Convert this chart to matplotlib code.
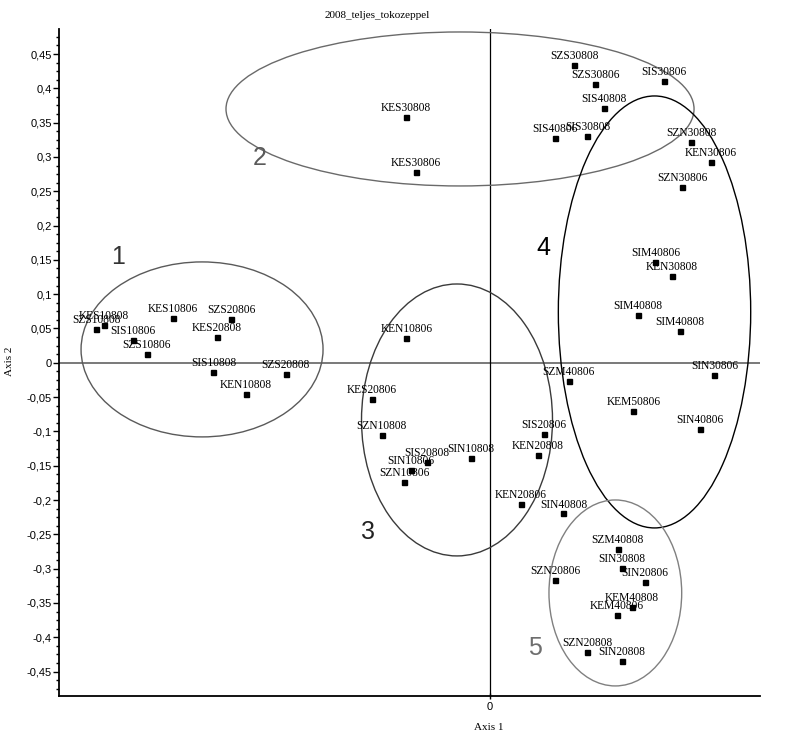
import matplotlib
matplotlib.use("Agg")
import matplotlib.pyplot as plt
from matplotlib.patches import Ellipse
from matplotlib.ticker import FixedLocator, MultipleLocator, FuncFormatter
import numpy as np

# ---- data ----
labels = [
    "KES10808", "SZS10808", "SIS10806", "SZS10806", "KES10806", "SZS20806",
    "KES20808", "SIS10808", "SZS20808", "KEN10808",
    "KES30808", "KES30806", "SZS30808", "SZS30806", "SIS30806", "SIS40808",
    "SIS40806", "SIS30808",
    "SZN30808", "KEN30806", "SZN30806", "SIM40806", "KEN30808", "SIM40808",
    "SIM40808", "SIN30806", "SZM40806", "KEM50806", "SIN40806",
    "KEN10806", "KES20806", "SZN10808", "SIS20808", "SIN10806", "SZN10806",
    "SIN10808", "SIS20806", "KEN20808", "KEN20806", "SIN40808",
    "SZM40808", "SIN30808", "SIN20806", "SZN20806", "KEM40808", "KEM40806",
    "SZN20808", "SIN20808",
]
axis1 = [
    -0.562, -0.574, -0.520, -0.500, -0.462, -0.377, -0.398, -0.403, -0.298, -0.356,
    -0.122, -0.108, 0.123, 0.153, 0.253, 0.166, 0.095, 0.142,
    0.293, 0.322, 0.280, 0.241, 0.265, 0.215, 0.277, 0.327, 0.115, 0.209, 0.306,
    -0.122, -0.172, -0.158, -0.092, -0.115, -0.125, -0.028, 0.078, 0.070, 0.045, 0.107,
    0.186, 0.192, 0.226, 0.095, 0.207, 0.185, 0.142, 0.192,
]
axis2 = [
    0.0547, 0.0489, 0.0333, 0.0125, 0.0658, 0.0639, 0.0377, -0.0138, -0.0167, -0.0450,
    0.3587, 0.2781, 0.4336, 0.4059, 0.4107, 0.3713, 0.3281, 0.3310,
    0.3214, 0.2931, 0.2558, 0.1474, 0.1261, 0.0702, 0.0468, -0.0173, -0.0260, -0.0697, -0.0964,
    0.0358, -0.0527, -0.1056, -0.1449, -0.1557, -0.1740, -0.1386, -0.1041, -0.1338, -0.2057, -0.2195,
    -0.2712, -0.2994, -0.3198, -0.3164, -0.3553, -0.3678, -0.4209, -0.4349,
]
yticks = [-0.45, -0.4, -0.35, -0.3, -0.25, -0.2, -0.15, -0.1, -0.05, 0,
          0.05, 0.1, 0.15, 0.2, 0.25, 0.3, 0.35, 0.4, 0.45]
xticks = [0]

# group ellipses: (name, cx, cy, width, height)
group_names = ["1", "2", "3", "4", "5"]
ell_cx = [-0.4196, -0.0437, -0.0481, 0.2397, 0.1826]
ell_cy = [0.0195, 0.3699, -0.0833, 0.0741, -0.3354]
ell_w = [0.3526, 0.682, 0.2783, 0.2803, 0.1934]
ell_h = [0.255, 0.2244, 0.3963, 0.6295, 0.271]
num_x = [-0.542, -0.335, -0.178, 0.0772, 0.0656]
num_y = [0.1542, 0.2985, -0.2465, 0.1673, -0.4155]
ell_colors = ["#5a5a5a", "#6a6a6a", "#3a3a3a", "#000000", "#808080"]
num_colors = ["#333333", "#5a5a5a", "#222222", "#000000", "#6e6e6e"]

# ---- figure ----
fig = plt.figure(figsize=(7.9, 7.36), dpi=100)
L, R, B, T = 59.3, 760.0, 696.3, 29.3
ax = fig.add_axes([L / 790, 1 - B / 736, (R - L) / 790, (B - T) / 736])
ax.set_xlim(-0.6276, 0.3934)
ax.set_ylim(-0.486, 0.486)

serif = "Liberation Serif"

ax.axhline(0, color="#6e6e6e", lw=1.3, zorder=1)
ax.axvline(0, color="#000000", lw=0.9, zorder=1)

for i in range(len(group_names)):
    e = Ellipse((ell_cx[i], ell_cy[i]), ell_w[i], ell_h[i], fill=False,
                edgecolor=ell_colors[i], lw=1.0, zorder=2)
    ax.add_patch(e)
    ax.text(num_x[i], num_y[i], group_names[i], fontsize=18, family="Liberation Sans",
            color=num_colors[i], ha="center", va="center", zorder=3)

ax.plot(axis1, axis2, linestyle="none", marker="s", markersize=3.6,
        color="black", zorder=4)
for lab, x, y in zip(labels, axis1, axis2):
    ax.annotate(lab, (x, y), xytext=(0, 4.2), textcoords="offset points",
                ha="center", va="baseline", fontsize=8.3, family=serif,
                color="black", zorder=5)

# spines
for s in ["top", "right"]:
    ax.spines[s].set_visible(False)
for s in ["left", "bottom"]:
    ax.spines[s].set_linewidth(1.3)
    ax.spines[s].set_color("black")

def fmt(v, pos):
    if abs(v) < 1e-9:
        return "0"
    s = ("%.2f" % v).rstrip("0")
    return s.replace(".", ",")

ax.yaxis.set_major_locator(FixedLocator(yticks))
ax.yaxis.set_minor_locator(MultipleLocator(0.0125))
ax.yaxis.set_major_formatter(FuncFormatter(fmt))
ax.xaxis.set_major_locator(FixedLocator(xticks))
ax.xaxis.set_major_formatter(FuncFormatter(fmt))
ax.tick_params(axis="y", which="major", length=4, width=1, direction="out",
               labelsize=8, pad=1.5)
ax.tick_params(axis="y", which="minor", length=2, width=1, direction="out")
ax.tick_params(axis="x", which="major", length=4, width=1, direction="inout",
               labelsize=8, pad=2)
for t in ax.get_yticklabels() + ax.get_xticklabels():
    t.set_family("Liberation Sans")

fig.text(377 / 790, 1 - 16 / 736, "2008_teljes_tokozeppel", ha="center",
         va="center", fontsize=8, family=serif)
fig.text(489 / 790, 1 - 727 / 736, "Axis 1", ha="center", va="center",
         fontsize=8, family=serif)
fig.text(10 / 790, 1 - 361 / 736, "Axis 2", ha="center", va="center",
         fontsize=8, family=serif, rotation=90)

fig.savefig("out.png", dpi=100)
